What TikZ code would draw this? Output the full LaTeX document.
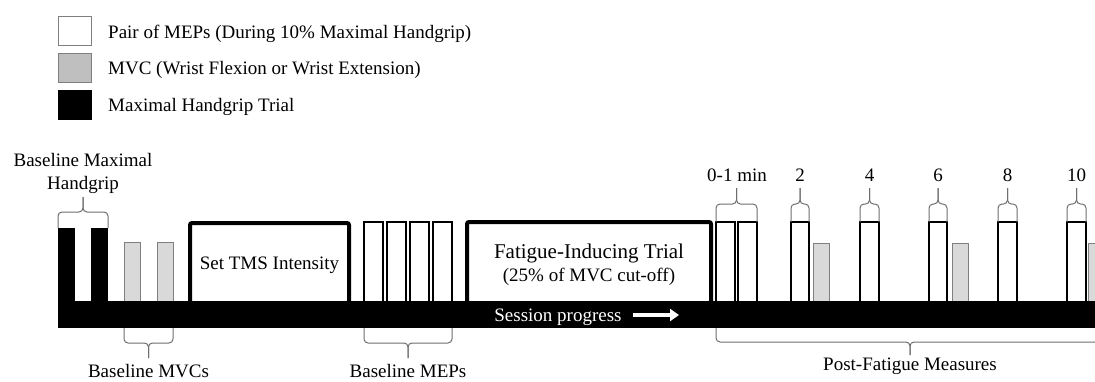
\documentclass[tikz,border=0pt]{standalone}
\usepackage{fontspec}
\setmainfont{Liberation Serif}
\usepackage{xcolor}
\usepackage{tikz}
\usetikzlibrary{arrows.meta, calc}

\definecolor{mvcgray}{RGB}{217,217,217}
\definecolor{leggray}{RGB}{191,191,191}
\definecolor{edgegray}{RGB}{127,127,127}
\definecolor{bracegray}{RGB}{110,110,110}

\newcommand{\capbrace}[4]{%
  \draw[gbrace] (#1) -- ++(0,#3) -- ($(#1)!0.5!(#2)+(0,#3)$) -- ($(#1)!0.5!(#2)+(0,#4)$);
  \draw[gbrace] (#2) -- ++(0,#3) -- ($(#1)!0.5!(#2)+(0,#3)$) -- ($(#1)!0.5!(#2)+(0,#4)$);
}

\begin{document}
\begin{tikzpicture}[
  x=1pt, y=-1pt,
  txt/.style={font=\fontsize{19}{23}\selectfont, inner sep=0pt, anchor=base},
  bigtxt/.style={font=\fontsize{21}{25}\selectfont, inner sep=0pt, anchor=base},
  block/.style={rectangle, anchor=north west, inner sep=0pt, outer sep=0pt},
  grip/.style={block, fill=black, minimum width=17pt, minimum height=74pt},
  mvc/.style={block, draw=edgegray, line width=0.9pt, fill=mvcgray, minimum width=16pt, minimum height=59pt},
  mep/.style={block, draw=black, line width=1.3pt, fill=white, minimum width=19pt, minimum height=80pt},
  trial/.style={block, draw=black, line width=4pt, rounded corners=2pt, fill=white, minimum height=80pt},
  legbox/.style={block, draw=edgegray, line width=1pt, minimum width=33pt, minimum height=29pt},
  gbrace/.style={draw=bracegray, line width=1pt, rounded corners=4pt},
  progress/.style={-{Triangle[length=9pt, width=12pt]}, white, line width=4pt}
]
\useasboundingbox (0,0) rectangle (1095,381);

\node[legbox, fill=white] (legMEP) at (58,16) {};
\node[legbox, fill=leggray] (legMVC) at (58,53) {};
\node[legbox, fill=black, draw=black] (legGrip) at (58,90) {};
\node[txt, anchor=base west] (legMEPtext) at (108,38) {Pair of MEPs (During 10\% Maximal Handgrip)};
\node[txt, anchor=base west] (legMVCtext) at (108,74) {MVC (Wrist Flexion or Wrist Extension)};
\node[txt, anchor=base west] (legGriptext) at (108,111) {Maximal Handgrip Trial};

\node[grip] (gripA) at (58,228) {};
\node[grip] (gripB) at (91,228) {};
\node[mvc] (mvcA) at (124,242) {};
\node[mvc] (mvcB) at (157,242) {};

\node[trial, minimum width=159pt] (tms) at (190,223) {};
\node[txt] (tmsText) at (269.5,269) {Set TMS Intensity};

\node[mep] (mepA) at (364,222) {};
\node[mep] (mepB) at (387,222) {};
\node[mep] (mepC) at (410,222) {};
\node[mep] (mepD) at (433,222) {};

\node[trial, minimum width=244pt, minimum height=81pt] (fatigue) at (467,222) {};
\node[bigtxt] (fatigueText) at (589,258) {Fatigue-Inducing Trial};
\node[txt] (cutoffText) at (589,281) {(25\% of MVC cut-off)};

\node[mep] (mepE) at (716,222) {};
\node[mep] (mepF) at (738,222) {};
\node[mep, minimum width=18pt] (mepG) at (791,222) {};
\node[mvc] (mvcC) at (813,243) {};
\node[mep] (mepH) at (860,222) {};
\node[mep, minimum width=18pt] (mepI) at (929,222) {};
\node[mvc] (mvcD) at (952,243) {};
\node[mep] (mepJ) at (998,222) {};
\node[mep] (mepK) at (1067,222) {};
\node[mvc] (mvcE) at (1088,243) {};

\node[block, fill=black, minimum width=1050pt, minimum height=27pt] (timeline) at (58,301) {};
\node[txt, text=white] (progressText) at (558,321) {Session progress};
\coordinate (progressEnd) at (679,315);
\draw[progress, shorten <=11.5pt] (progressText.east |- progressEnd) -- (progressEnd);

\capbrace{gripA.north west}{gripB.north east}{-16}{-31}
\node[txt] (gripLabelA) at (83,166) {Baseline Maximal};
\node[txt] (gripLabelB) at (83,189) {Handgrip};

\capbrace{mepE.north west}{mepF.north east}{-18}{-34}
\capbrace{mepG.north west}{mepG.north east}{-18}{-34}
\capbrace{mepH.north west}{mepH.north east}{-18}{-34}
\capbrace{mepI.north west}{mepI.north east}{-18}{-34}
\capbrace{mepJ.north west}{mepJ.north east}{-18}{-34}
\capbrace{mepK.north west}{mepK.north east}{-18}{-34}
\node[txt] (minA) at (737,181) {0-1 min};
\node[txt] (minB) at (800,181) {2};
\node[txt] (minC) at (869.5,181) {4};
\node[txt] (minD) at (938,181) {6};
\node[txt] (minE) at (1007.5,181) {8};
\node[txt] (minF) at (1076.5,181) {10};

\coordinate (postEnd) at (1104,328);
\capbrace{mvcA.south west |- timeline.south}{mvcB.south east |- timeline.south}{15}{30}
\capbrace{mepA.south west |- timeline.south}{mepD.south east |- timeline.south}{15}{30}
\capbrace{mepE.south west |- timeline.south}{postEnd}{14}{27}
\node[txt] (mvcLabel) at (148.5,377) {Baseline MVCs};
\node[txt] (mepLabel) at (408,377) {Baseline MEPs};
\node[txt] (postLabel) at (910,370) {Post-Fatigue Measures};
\end{tikzpicture}
\end{document}
